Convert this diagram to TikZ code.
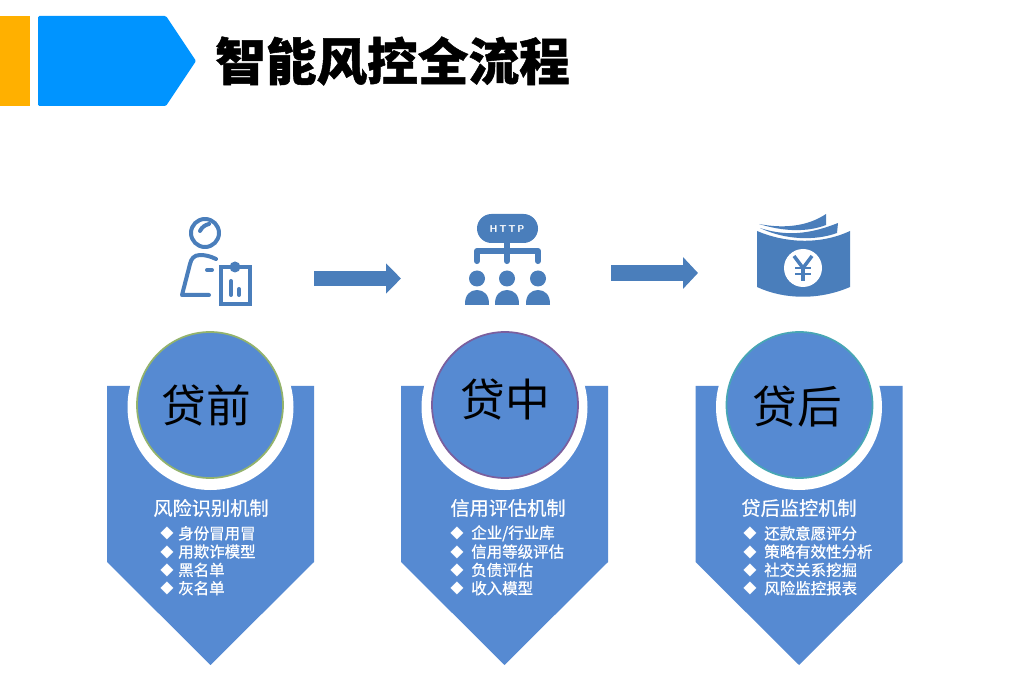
\documentclass[tikz,border=0pt]{standalone}
\usepackage{fontspec}
\setmainfont{Noto Sans CJK SC}
\newfontfamily\titlefont[BoldFeatures={FakeBold=1}]{Noto Sans CJK SC}
\newfontfamily\itemfont[FakeBold=0.9]{Noto Sans CJK SC}
\newfontfamily\headfont[FakeBold=0.5]{Noto Sans CJK SC}
\usetikzlibrary{arrows.meta}
\definecolor{panelBlue}{HTML}{568AD2}
\definecolor{iconBlue}{HTML}{4A7EBB}
\definecolor{tabBlue}{HTML}{0094FF}
\definecolor{tabYellow}{HTML}{FFB000}
\definecolor{rimGreen}{HTML}{93B36C}
\definecolor{rimPurple}{HTML}{7A5F9E}
\definecolor{rimTeal}{HTML}{48A6B4}
\tikzset{
	blockarrow/.style={iconBlue, line width=#1*0.75pt},
	iconline/.style={draw=iconBlue, line width=3pt, line cap=round, line join=round},
	iconfill/.style={fill=iconBlue, draw=none},
	headtext/.style={white, font=\headfont\fontsize{14.4}{16}\selectfont},
	itemtext/.style={white, anchor=west, inner sep=0pt, font=\itemfont\fontsize{11.6}{13}\selectfont},
	bullet/.style={white, inner sep=0pt, font=\fontsize{10}{11}\selectfont},
	bigtext/.style={black, font=\fontsize{33.5}{36}\selectfont},
}

\begin{document}
\begin{tikzpicture}[x=0.75pt, y=-0.75pt]
	\useasboundingbox (0,0) rectangle (1029,677);

	% title tabs
	\fill[tabYellow] (0,16) rectangle (30,106);
	\fill[tabBlue, rounded corners=1pt] (38,16) -- (166,16) -- (196,61) -- (166,106) -- (38,106) -- cycle;
	\node[inner sep=0pt, font=\titlefont\bfseries\fontsize{38}{42}\selectfont] (title) at (392.5,61) {智能风控全流程};

	% the three panels
	\foreach \name/\px/\cx/\rim/\big/\bx/\by/\head/\hx/\dotx/\itemx/\items in {
		pre/210.5/210/rimGreen/贷前/206/405/风险识别机制/211/167/178/{身份冒用冒,用欺诈模型,黑名单,灰名单},
		mid/504.5/505/rimPurple/贷中/505/400/信用评估机制/508/457/471/{企业/行业库,信用等级评估,负债评估,收入模型},
		post/799/799.5/rimTeal/贷后/797/407/贷后监控机制/799/750/764/{还款意愿评分,策略有效性分析,社交关系挖掘,风险监控报表}%
	}{
		\fill[panelBlue] (\px-103.5,386) -- (\px+103.5,386) -- (\px+103.5,562) -- (\px,665) -- (\px-103.5,562) -- cycle;
		\fill[white] (\px,407) circle (83);
		\filldraw[fill=panelBlue, draw=\rim, line width=1.3pt] (\cx,405) circle (73);
		\node[bigtext] (\name-big) at (\bx,\by) {\big};
		\node[headtext] (\name-head) at (\hx,508) {\head};
		\foreach \entry [count=\n] in \items {
			\node[bullet] (\name-dot\n) at (\dotx,515.5+18.3*\n) {◆};
			\node[itemtext] (\name-item\n) at (\itemx,515+18.3*\n) {\entry};
		}
	}

	% arrows between the stages
	\coordinate (a1) at (314,278.5);
	\coordinate (a2) at (401,278.5);
	\coordinate (b1) at (611,273);
	\coordinate (b2) at (698,273);
	\draw[blockarrow=15, -{Triangle[length=11.25pt, width=22pt]}] (a1) -- (a2);
	\draw[blockarrow=16, -{Triangle[length=11.25pt, width=23.25pt]}] (b1) -- (b2);

	% person with clipboard
	\draw[iconline] (205,233) circle (14);
	\draw[iconline] (200,231) .. controls (202,227) and (205,225) .. (209,224);
	\draw[iconline] (216,259) .. controls (210,256) and (205,255) .. (200,255) .. controls (194,255) and (191,259) .. (190,264) -- (182,295) -- (209,295);
	\draw[iconline] (207,270) -- (212,270);
	\draw[iconline, line join=miter, line width=3.2pt] (221,267) rectangle (250,304);
	\fill[iconBlue] (235,267) circle (5.5);
	\draw[iconline] (231,281) -- (231,295);
	\draw[iconline] (239,289) -- (239,295);

	% http tree
	\fill[iconBlue, rounded corners=14.5*0.75pt] (477,214) rectangle (538,243);
	\node[white, inner sep=0pt, font=\sffamily\bfseries\fontsize{7.5}{9}\selectfont] (http) at (507,229) {H\,T\,T\,P};
	\draw[iconline, line width=4.6pt] (477,261) -- (477,251) -- (538,251) -- (538,261);
	\draw[iconline, line width=4.6pt] (507,243) -- (507,261);
	\foreach \tx in {477,507,538} {
		\fill[iconBlue] (\tx,278.5) circle (8);
		\fill[iconfill] (\tx-12,305) .. controls (\tx-12.5,295) and (\tx-7,290) .. (\tx,290) .. controls (\tx+7,290) and (\tx+12.5,295) .. (\tx+12,305) -- cycle;
	}

	% bank notes
	\fill[iconBlue] (759,224) .. controls (785,229) and (808,226) .. (826,214) -- (826,225) .. controls (808,232) and (785,232) .. cycle;
	\fill[iconBlue] (760,228) .. controls (790,238) and (815,232) .. (838,223) -- (837,233) .. controls (815,241) and (785,240) .. cycle;
	\fill[iconBlue] (757,231) .. controls (785,243) and (820,245) .. (850,231) -- (850,287) .. controls (820,300) and (785,300) .. (757,287) -- cycle;
	\fill[white] (803,268) circle (19);
	\draw[iconBlue, line width=2.6pt] (794,256) -- (803,268) -- (812,256);
	\draw[iconBlue, line width=2.6pt] (803,268) -- (803,281);
	\draw[iconBlue, line width=2pt] (795,268) -- (811,268);
	\draw[iconBlue, line width=2pt] (795,274) -- (811,274);
\end{tikzpicture}
\end{document}
